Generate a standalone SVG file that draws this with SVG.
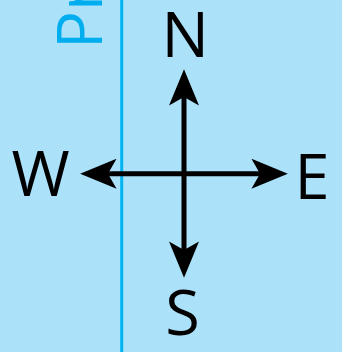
<svg xmlns="http://www.w3.org/2000/svg" width="342" height="352" viewBox="0 0 342 352">
<style>
.lbl{font-family:"Open Sans","Noto Sans","DejaVu Sans",sans-serif;font-size:63px;fill:#000;text-anchor:middle}
.arrow{stroke:#000;stroke-width:5;fill:none}
</style>
<defs>
<marker id="ah" markerUnits="userSpaceOnUse" markerWidth="40" markerHeight="30" refX="8" refY="14" orient="auto-start-reverse" viewBox="0 0 34 28">
<path d="M0,0 L34,14 L0,28 L8,14 Z" fill="#000"/>
</marker>
</defs>
<rect x="0" y="0" width="342" height="352" fill="#ace1fa"/>
<g id="panel">
<line x1="121.7" y1="0" x2="121.7" y2="352" stroke="#00b4f0" stroke-width="3"/>
<text transform="translate(102,49) rotate(-90)" x="0" y="0" style="font-family:'Open Sans','Noto Sans',sans-serif;font-size:63px;fill:#00aeef">Pr</text>
</g>
<g id="connectors">
<line class="arrow" x1="184" y1="250" x2="184" y2="97" marker-start="url(#ah)" marker-end="url(#ah)"/>
<line class="arrow" x1="108" y1="173.7" x2="260" y2="173.7" marker-start="url(#ah)" marker-end="url(#ah)"/>
</g>
<g id="N"><text class="lbl" x="185.3" y="57.3">N</text></g>
<g id="S"><text class="lbl" x="182.5" y="335">S</text></g>
<g id="W"><text class="lbl" x="40.5" y="195.5">W</text></g>
<g id="E"><text class="lbl" x="312" y="199">E</text></g>
</svg>
